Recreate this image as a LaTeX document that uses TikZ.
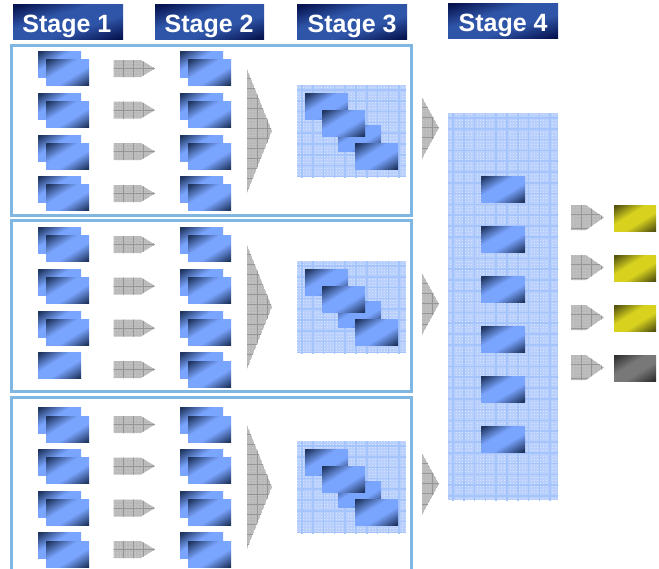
\documentclass[tikz,border=0pt]{standalone}
\usepackage{fontspec}
\setmainfont{Liberation Sans}
\usetikzlibrary{patterns}
\definecolor{panelblue}{HTML}{7FB6E2}
\definecolor{arrowfill}{HTML}{BABABA}
\definecolor{arrowdot}{HTML}{D0D0D0}
\definecolor{arrowline}{HTML}{969696}
\definecolor{meshfill}{HTML}{B9D0FD}
\definecolor{meshdot}{HTML}{E8F0FF}
\definecolor{meshline}{HTML}{A6C4FC}
\pgfdeclarepatternformonly{finedots}{\pgfqpoint{-0.5pt}{-0.5pt}}{\pgfqpoint{0.5pt}{0.5pt}}{\pgfqpoint{3pt}{3pt}}{\pgfpathrectangle{\pgfqpoint{-0.5pt}{-0.5pt}}{\pgfqpoint{1.6pt}{1.6pt}}\pgfusepath{fill}}
% name, width of each dark end on the diagonal, its far limit, light r g b, delta r g b
\newcommand{\diagshade}[9]{%
  \pgfdeclarefunctionalshading{#1}{\pgfpointorigin}{\pgfpoint{100bp}{100bp}}{}{
    50 div 1.5 exch sub
    exch 50 div 0.5 sub
    add
    dup #2 lt { #2 exch sub #2 0.9 mul div } { #3 sub dup 0 lt { pop 0 } { #2 0.9 mul div } ifelse } ifelse
    dup 1 gt { pop 1 } if
    dup 0 lt { pop 0 } if
    dup #7 mul #4 add exch
    dup #8 mul #5 add exch
    #9 mul #6 add
  }}
\diagshade{slideshade}{0.75}{1.25}{0.478}{0.647}{1.0}{-0.356}{-0.439}{-0.624}
\diagshade{yellowshade}{0.75}{1.25}{0.847}{0.824}{0.122}{-0.514}{-0.491}{-0.063}
\diagshade{greyshade}{0.75}{1.25}{0.47}{0.47}{0.47}{-0.28}{-0.28}{-0.28}
\diagshade{headshade}{0.7}{1.3}{0.184}{0.333}{0.659}{-0.157}{-0.255}{-0.345}
\tikzset{
  slidebox/.style={shading=slideshade},
  yellowbox/.style={shading=yellowshade},
  greybox/.style={shading=greyshade},
  panelframe/.style={draw=panelblue,line width=3pt},
  gridline/.style={draw=arrowline,line width=0.9pt},
  meshgrid/.style={draw=meshline,line width=1.5pt},
  stagelabel/.style={shading=headshade,text=white,inner sep=0pt,font=\fontsize{25}{25}\selectfont\bfseries,minimum height=35pt,anchor=north west}
}
\newcommand{\slideat}[2]{\shade[slidebox] (#1,#2) rectangle ++(43,26.5);}
\newcommand{\greyshape}[5]{%
  \begin{scope}
    \clip #1;
    \fill[arrowfill] #1;
    \fill[pattern=finedots,pattern color=arrowdot] #1;
    \foreach \k in {0,...,#5} {
      \draw[gridline] ({#2+10*\k},-10) -- ++(0,600);
      \draw[gridline] (0,{#3+#4*\k}) -- ++(700,0);
    }
  \end{scope}}
\newcommand{\smallarrow}[2]{\greyshape{(#1,#2) -- ++(27.5,0) -- ++(14,8.5) -- ++(-14,8.5) -- ++(-27.5,0) -- cycle}{#1+9.5}{#2+8.5}{30}{3}}
\newcommand{\rightarrowbox}[2]{\greyshape{(#1,#2) -- ++(15,0) -- ++(18,12.5) -- ++(-18,12.5) -- ++(-15,0) -- cycle}{#1+10.5}{#2+9}{14}{2}}
\newcommand{\bigtriangleat}[1]{\greyshape{(247,#1) -- (272,#1+62) -- (247,#1+124) -- cycle}{257}{#1+9}{10}{12}}
\newcommand{\midtriangleat}[1]{\greyshape{(422,#1) -- (439,#1+31) -- (422,#1+62) -- cycle}{432}{#1+10}{10.3}{5}}
\newcommand{\meshbox}[4]{%
  \begin{scope}
    \clip (#1,#2) rectangle (#3,#4);
    \fill[meshfill] (#1,#2) rectangle (#3,#4);
    \fill[pattern=finedots,pattern color=meshdot] (#1,#2) rectangle (#3,#4);
    \foreach \k in {0,...,36} {
      \draw[meshgrid] ({#1+5+10.8*\k},#2) -- ++(0,400);
      \draw[meshgrid] (#1,{#2+5+10.8*\k}) -- ++(200,0);
    }
  \end{scope}}
\newcommand{\stagethree}[1]{%
  \meshbox{297}{#1}{406}{#1+92}
  \slideat{305}{#1+8}
  \slideat{338}{#1+40}
  \slideat{322}{#1+25}
  \slideat{355}{#1+58}}
\newcommand{\stagetext}[1]{\raisebox{-10.5pt}[0pt][0pt]{#1}}
\begin{document}
\begin{tikzpicture}[x=1pt,y=-1pt]
\useasboundingbox (0,0) rectangle (659,568);
\fill[white] (0,0) rectangle (659,568);
\node[stagelabel,minimum width=110pt] (s1) at (13,4) {\hspace{-2.5pt}\stagetext{Stage 1}};
\node[stagelabel,minimum width=109pt] (s2) at (155,4) {\hspace{-1pt}\stagetext{Stage 2}};
\node[stagelabel,minimum width=110pt] (s3) at (297,4) {\stagetext{Stage 3}};
\node[stagelabel,minimum width=110pt] (s4) at (448,3) {\stagetext{Stage 4}};
\draw[panelframe] (11.5,45.5) rectangle (411.5,215.5);
\draw[panelframe] (11.5,220.5) rectangle (411.5,391);
\draw[panelframe] (11.5,572) -- (11.5,397.5) -- (411.5,397.5) -- (411.5,572);
\foreach \b/\f/\a in {51/59/60,93/101/101.5,135/143/143,176/184/185} {
  \slideat{38}{\b}\slideat{46}{\f}
  \slideat{180}{\b}\slideat{188}{\f}
  \smallarrow{113.5}{\a}
}
\foreach \b/\f/\a in {227/235/236,269/277/277.5,311/319/319.5} {
  \slideat{38}{\b}\slideat{46}{\f}
  \slideat{180}{\b}\slideat{188}{\f}
  \smallarrow{113.5}{\a}
}
\slideat{38}{352}
\slideat{180}{352}\slideat{188}{361}
\smallarrow{113.5}{361}
\foreach \b/\f/\a in {407/416/416,449/457/457.5,491/499/499.5,532/541/541} {
  \slideat{38}{\b}\slideat{46}{\f}
  \slideat{180}{\b}\slideat{188}{\f}
  \smallarrow{113.5}{\a}
}
\bigtriangleat{69}
\bigtriangleat{245}
\bigtriangleat{425}
\stagethree{85}
\stagethree{261}
\stagethree{441}
\midtriangleat{97}
\midtriangleat{273}
\midtriangleat{453}
\meshbox{448}{113}{558}{500}
\foreach \y in {176,226,276.5,326.5,376,426} { \shade[slidebox] (481,\y) rectangle ++(44,26); }
\foreach \y in {205,255,305,355} { \rightarrowbox{571}{\y} }
\foreach \y in {205,255,305} { \shade[yellowbox] (614,\y) rectangle ++(42,26); }
\shade[greybox] (614,355) rectangle ++(42,26);
\end{tikzpicture}
\end{document}
